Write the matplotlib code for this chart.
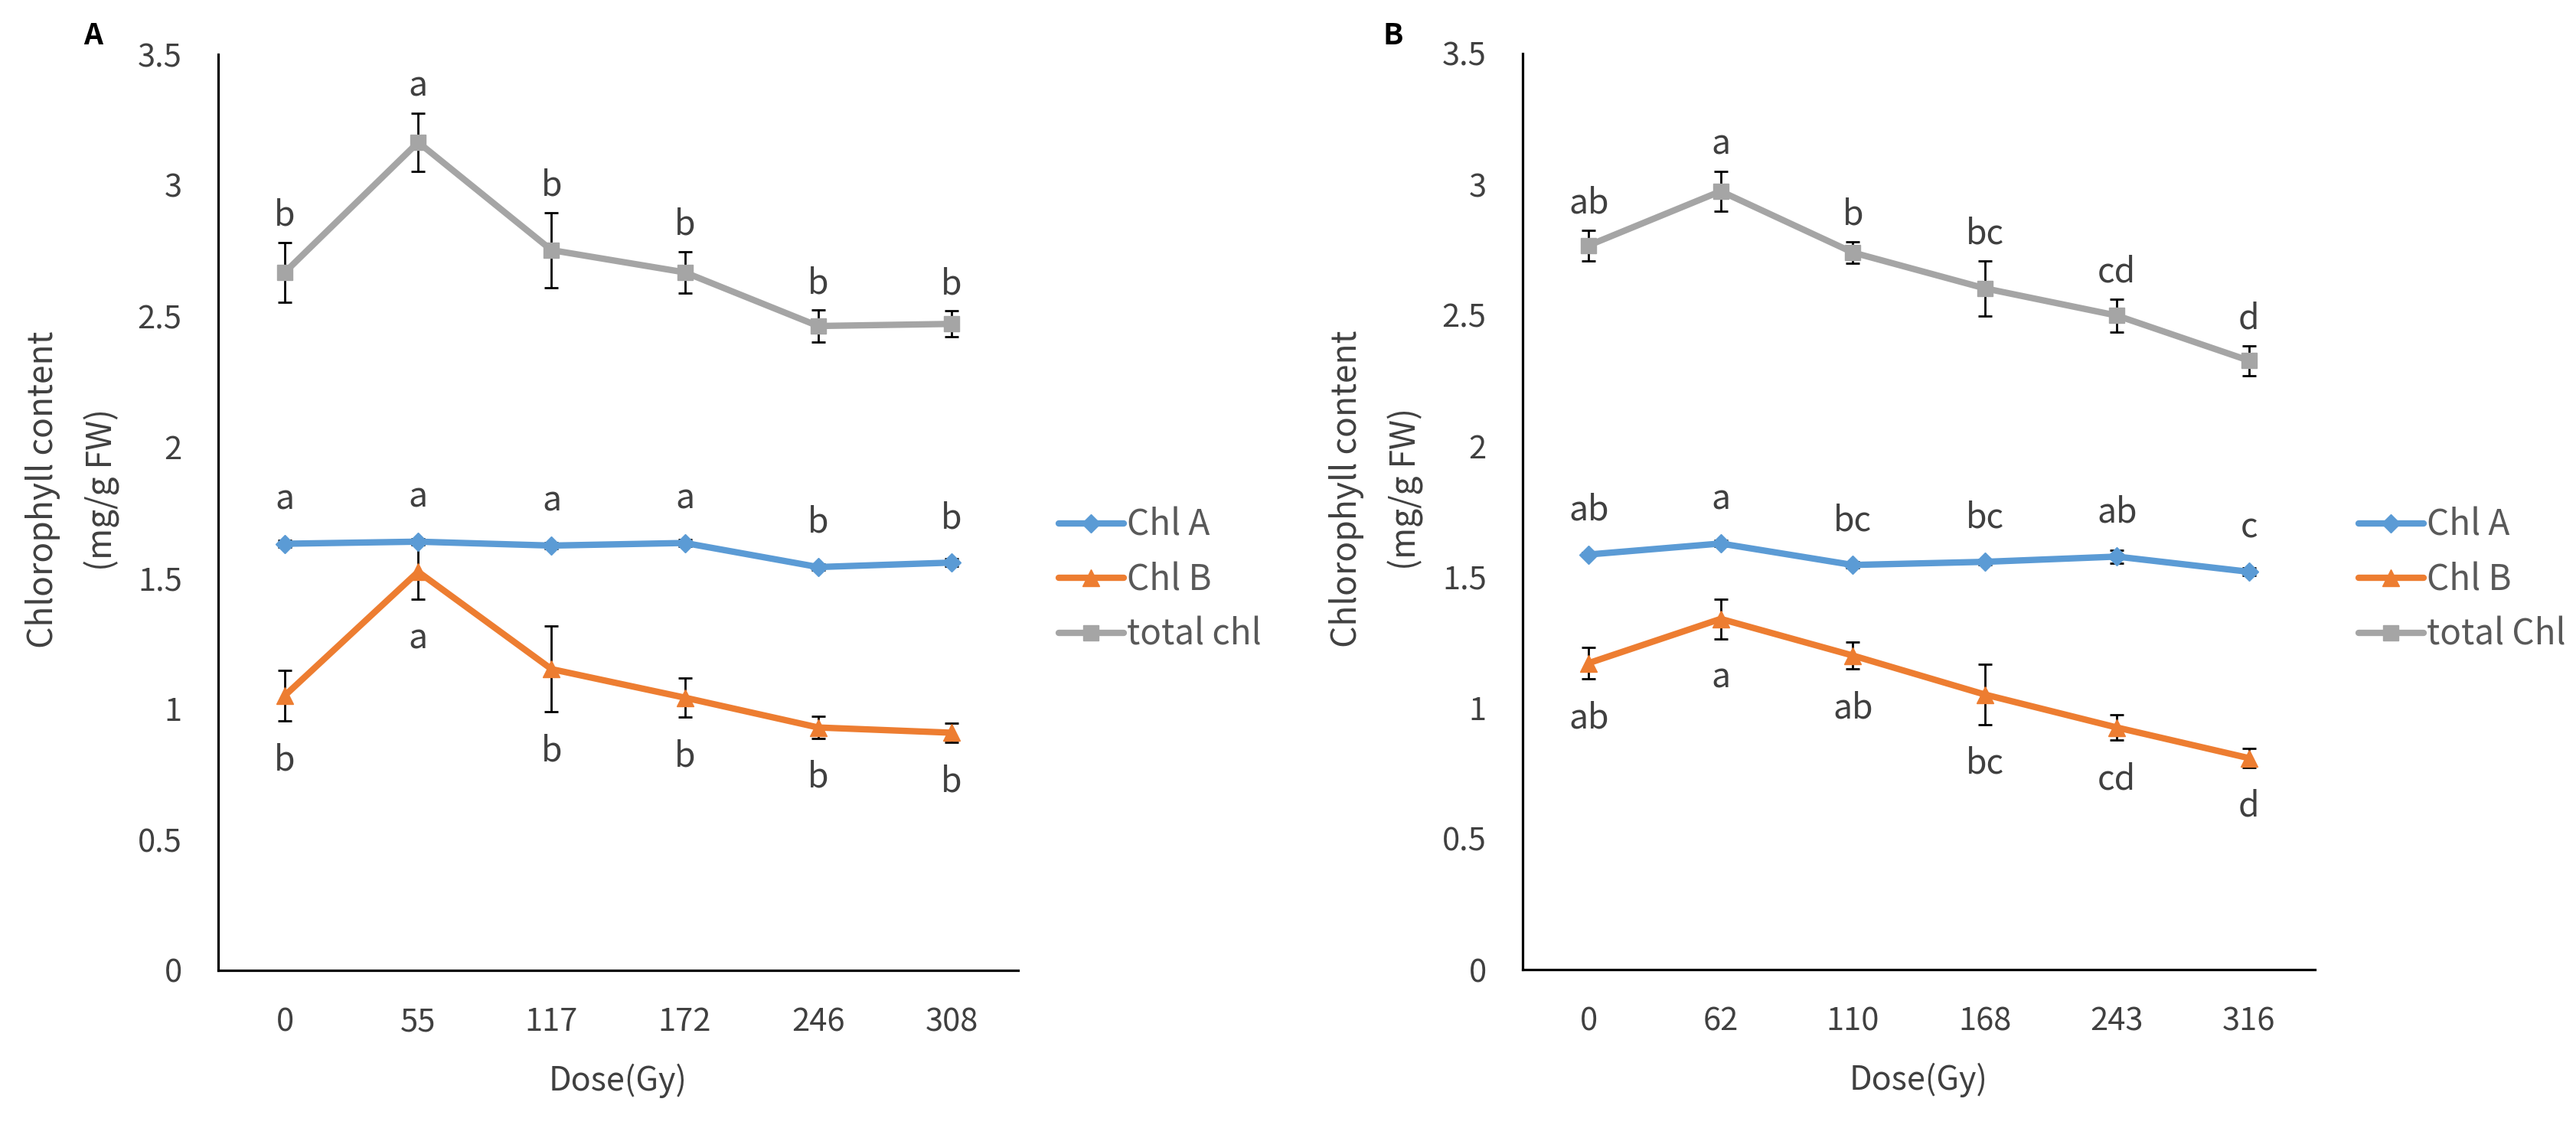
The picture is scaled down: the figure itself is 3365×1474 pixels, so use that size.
import matplotlib
matplotlib.use("Agg")
import matplotlib.pyplot as plt

plt.rcParams['font.family'] = ['Noto Sans CJK KR', 'DejaVu Sans']

# ---------------- data ----------------
doses_A = ['0', '55', '117', '172', '246', '308']
doses_B = ['0', '62', '110', '168', '243', '316']

chlA_A = [1.630, 1.638, 1.623, 1.633, 1.541, 1.558]
chlA_A_err = [0.012, 0.012, 0.012, 0.012, 0.012, 0.014]
chlB_A = [1.050, 1.523, 1.151, 1.042, 0.928, 0.908]
chlB_A_err = [0.097, 0.105, 0.164, 0.075, 0.042, 0.037]
total_A = [2.667, 3.164, 2.752, 2.667, 2.462, 2.470]
total_A_err = [0.115, 0.112, 0.143, 0.080, 0.060, 0.050]
let_total_A = ['b', 'a', 'b', 'b', 'b', 'b']
let_chlA_A = ['a', 'a', 'a', 'a', 'b', 'b']
let_chlB_A = ['b', 'a', 'b', 'b', 'b', 'b']

chlA_B = [1.586, 1.628, 1.546, 1.558, 1.578, 1.520]
chlA_B_err = [0.008, 0.012, 0.012, 0.010, 0.025, 0.015]
chlB_B = [1.171, 1.340, 1.200, 1.051, 0.925, 0.808]
chlB_B_err = [0.061, 0.076, 0.052, 0.115, 0.048, 0.036]
total_B = [2.767, 2.974, 2.740, 2.603, 2.499, 2.327]
total_B_err = [0.058, 0.077, 0.041, 0.105, 0.063, 0.057]
let_total_B = ['ab', 'a', 'b', 'bc', 'cd', 'd']
let_chlA_B = ['ab', 'a', 'bc', 'bc', 'ab', 'c']
let_chlB_B = ['ab', 'a', 'ab', 'bc', 'cd', 'd']

labels_A = ['Chl A', 'Chl B', 'total chl']
labels_B = ['Chl A', 'Chl B', 'total Chl']

yticks = [0, 0.5, 1, 1.5, 2, 2.5, 3, 3.5]
ytick_labels = ['0', '0.5', '1', '1.5', '2', '2.5', '3', '3.5']

# ---------------- style ----------------
C_A = '#5B9BD5'
C_B = '#ED7D31'
C_T = '#A5A5A5'
TXT = '#404040'
FS_TICK = 30
FS_LET = 32
FS_YLAB = 32
FS_XLAB = 31
FS_LEG = 33

W, H = 3365, 1474
fig = plt.figure(figsize=(W / 100, H / 100), dpi=100)


def fx(px):
    return px / W


def fy(py):
    return 1 - py / H


def panel(rect, doses, series, errs, letters, leg_labels, leg_x, panel_letter, letter_x, ylabel_x):
    ax = fig.add_axes(rect)
    x = list(range(len(doses)))
    colors = [C_A, C_B, C_T]
    markers = ['D', '^', 's']
    msizes = [12, 16, 15]
    handles = []
    for vals, err, c, m, ms, lab in zip(series, errs, colors, markers, msizes, leg_labels):
        ax.errorbar(x, vals, yerr=err, fmt='none', ecolor='black', elinewidth=2,
                    capsize=6.5, capthick=2, zorder=2)
        h, = ax.plot(x, vals, color=c, lw=6, marker=m, markersize=ms,
                     markeredgecolor=c, label=lab, zorder=3, solid_capstyle='round')
        handles.append(h)

    # significance letters
    (vA, vB, vT) = series
    (eA, eB, eT) = errs
    (lA, lB, lT) = letters
    for i in x:
        ax.annotate(lT[i], xy=(i, vT[i] + eT[i]), xytext=(0, 22), textcoords='offset pixels',
                    ha='center', va='baseline', fontsize=FS_LET, color=TXT)
        ax.annotate(lA[i], xy=(i, vA[i]), xytext=(0, 45), textcoords='offset pixels',
                    ha='center', va='baseline', fontsize=FS_LET, color=TXT)
        ax.annotate(lB[i], xy=(i, vB[i] - eB[i]), xytext=(0, -64), textcoords='offset pixels',
                    ha='center', va='baseline', fontsize=FS_LET, color=TXT)

    ax.set_xlim(-0.5, len(doses) - 0.5)
    ax.set_ylim(0, 3.5)
    ax.set_xticks(x)
    ax.set_xticklabels(doses)
    ax.set_yticks(yticks)
    ax.set_yticklabels(ytick_labels)
    ax.tick_params(axis='both', length=0, labelsize=FS_TICK, colors=TXT, pad=34)
    for s in ['top', 'right']:
        ax.spines[s].set_visible(False)
    for s in ['left', 'bottom']:
        ax.spines[s].set_color('black')
        ax.spines[s].set_linewidth(2.3)
    ax.set_xlabel('Dose(Gy)', fontsize=FS_XLAB, color=TXT, labelpad=24)
    ax.text(ylabel_x, 0.525, 'Chlorophyll content\n(mg/g FW)', transform=ax.transAxes,
            rotation=90, ha='center', va='center', fontsize=FS_YLAB, color=TXT,
            linespacing=1.85, multialignment='center')

    leg = fig.legend(handles=handles, loc='center left', bbox_to_anchor=(leg_x, fy(758)),
                     frameon=False, fontsize=FS_LEG, handlelength=1.85, handletextpad=0.1,
                     labelspacing=0.5, borderpad=0, borderaxespad=0, numpoints=1)
    for t in leg.get_texts():
        t.set_color('#595959')

    fig.text(letter_x, fy(47), panel_letter, fontsize=28, fontweight='bold',
             ha='center', va='center', color='black')
    return ax


# Panel A
rect_A = [fx(285), fy(1268), fx(1330) - fx(285), fy(71) - fy(1268)]
panel(rect_A, doses_A, (chlA_A, chlB_A, total_A), (chlA_A_err, chlB_A_err, total_A_err),
      (let_chlA_A, let_chlB_A, let_total_A), labels_A, fx(1383), 'A', fx(122),
      (95 - 285) / (1330 - 285))

# Panel B
rect_B = [fx(1989), fy(1267), fx(3024) - fx(1989), fy(70) - fy(1267)]
panel(rect_B, doses_B, (chlA_B, chlB_B, total_B), (chlA_B_err, chlB_B_err, total_B_err),
      (let_chlA_B, let_chlB_B, let_total_B), labels_B, fx(3081), 'B', fx(1820),
      (1798 - 1989) / (3024 - 1989))

fig.savefig('out.png', dpi=100, facecolor='white')
